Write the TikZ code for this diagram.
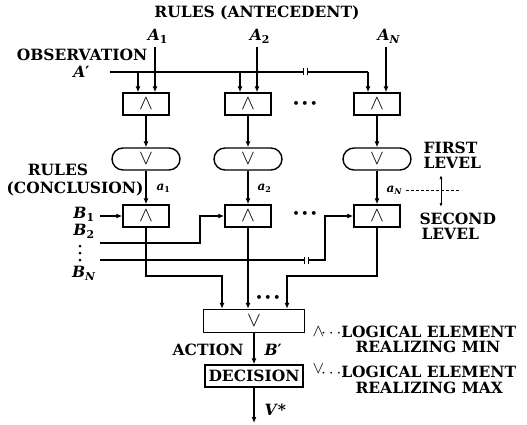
\documentclass[tikz,border=0pt]{standalone}
\usepackage{fontspec}
\setmainfont{DejaVu Serif}
\usetikzlibrary{arrows.meta}

\tikzset{
  wire/.style={line width=1.8pt},
  arr/.style={wire, -{Latex[length=6pt,width=5pt]}},
  andbox/.style={draw, line width=1.4pt, minimum width=46pt, minimum height=22pt, inner sep=0pt},
  orbox/.style={andbox, rounded corners=11pt, minimum width=68pt},
  small/.style={font=\fontsize{12}{13}\selectfont\bfseries},
}
\newcommand{\gateand}{{\fontsize{20}{20}\selectfont$\wedge$}}
\newcommand{\gateor}{{\fontsize{20}{20}\selectfont$\vee$}}
\newcommand{\vname}[2]{\textit{#1}\textsubscript{#2}}
\newcommand{\dotsrow}{{\fontsize{11}{11}\selectfont\textbullet\,\textbullet\,\textbullet}}

\begin{document}
\begin{tikzpicture}[x=1pt,y=-1pt,font=\fontsize{15.5}{15}\selectfont\bfseries]
\useasboundingbox (0,0) rectangle (527,425);

\node (ante) at (257,13) {RULES (ANTECEDENT)};
\node (obs) at (82,55) {OBSERVATION};
\node[anchor=east] (aprime) at (93,72) {\textit{A}′};

% first level
\node[andbox] (and1) at (146,104) {\gateand};
\node[andbox] (and2) at (248,104) {\gateand};
\node[andbox] (and3) at (377,104) {\gateand};
\node (dots1) at (305,104) {\dotsrow};

\node[orbox] (or1) at (146,159) {\gateor};
\node[orbox] (or2) at (248,159) {\gateor};
\node[orbox] (or3) at (377,159) {\gateor};

% second level
\node[andbox] (sec1) at (146,216) {\gateand};
\node[andbox] (sec2) at (248,216) {\gateand};
\node[andbox] (sec3) at (377,216) {\gateand};
\node (dots2) at (305,214) {\dotsrow};

% antecedents
\coordinate (in1) at (155,47);
\coordinate (in2) at (257,47);
\coordinate (in3) at (386,47);
\node[anchor=south, xshift=3pt] (la1) at (in1) {\vname{A}{1}};
\node[anchor=south, xshift=3pt] (la2) at (in2) {\vname{A}{2}};
\node[anchor=south, xshift=3pt] (la3) at (in3) {\vname{A}{\textit{N}}};
\draw[arr] (in1) -- (in1 |- and1.north);
\draw[arr] (in2) -- (in2 |- and2.north);
\draw[arr] (in3) -- (in3 |- and3.north);

% observation bus
\coordinate (busL) at (110,72);
\coordinate (tap1) at (138,72);
\coordinate (tap2) at (240,72);
\coordinate (brk1) at (303,72);
\coordinate (brk2) at (307,72);
\coordinate (tap3) at (368,72);
\draw[wire] (busL) -- (brk1);
\draw[wire] (brk2) -- (tap3);
\draw[line width=1pt] ([yshift=-3.5pt]brk1) -- ([yshift=3.5pt]brk1);
\draw[line width=1pt] ([yshift=-3.5pt]brk2) -- ([yshift=3.5pt]brk2);
\draw[arr] (tap1) -- (tap1 |- and1.north);
\draw[arr] (tap2) -- (tap2 |- and2.north);
\draw[arr] (tap3) -- (tap3 |- and3.north);

\draw[arr] (and1) -- (or1);
\draw[arr] (and2) -- (or2);
\draw[arr] (and3) -- (or3);
\draw[arr] (or1) -- (sec1);
\draw[arr] (or2) -- (sec2);
\draw[arr] (or3) -- (sec3);

\node[small, anchor=west] (lca1) at (153,188) {\vname{a}{1}};
\node[small, anchor=west] (lca2) at (254,188) {\vname{a}{2}};
\node[small, anchor=west] (lca3) at (383,190) {\vname{a}{\textit{N}}};

% conclusions
\node (rulc) at (58,170) {RULES};
\node (conc) at (75,189) {(CONCLUSION)};
\node (lb1) at (84,214) {\vname{B}{1}};
\node (lb2) at (84,231) {\vname{B}{2}};
\node (lbn) at (84,273) {\vname{B}{\textit{N}}};
\fill (80,246) circle (1.5pt) (80,253) circle (1.5pt) (80,260) circle (1.5pt);

\coordinate (b1) at (100,216);
\coordinate (b2) at (100,243);
\coordinate (b2up) at (200,243);
\coordinate (bn) at (100,260);
\coordinate (brk3) at (304,260);
\coordinate (brk4) at (308,260);
\coordinate (bnup) at (325,260);
\draw[arr] (b1) -- (sec1);
\draw[arr] (b2) -- (b2up) |- (sec2);
\draw[wire] (bn) -- (brk3);
\draw[arr] (brk4) -- (bnup) |- (sec3);
\draw[line width=1pt] ([yshift=-3.5pt]brk3) -- ([yshift=3.5pt]brk3);
\draw[line width=1pt] ([yshift=-3.5pt]brk4) -- ([yshift=3.5pt]brk4);

% levels
\node[anchor=west, align=left] (first) at (420,155) {FIRST\\LEVEL};
\node[anchor=west, align=left] (second) at (416,226) {SECOND\\\hspace{2pt}LEVEL};
\coordinate (lvup) at (441,175);
\coordinate (lvdn) at (441,207);
\coordinate (dashend) at (460,190);
\draw[line width=0.8pt, {Latex[length=4pt,width=3pt]}-{Latex[length=4pt,width=3pt]}] (lvup) -- (lvdn);
\draw[line width=0.8pt, dash pattern=on 3pt off 2pt] (lca3.east) -- (dashend);

% action
\node[andbox, minimum width=101pt, minimum height=23pt] (orall) at (254,321) {\gateor};
\coordinate (mrgL) at (222,276);
\coordinate (mrgR) at (287,276);
\draw[arr] (sec1) |- (mrgL) -- (mrgL |- orall.north);
\draw[arr] (sec2.south) -- (sec2.south |- orall.north);
\draw[arr] (sec3) |- (mrgR) -- (mrgR |- orall.north);
\node (dots3) at (268,298) {\dotsrow};

\node[andbox, minimum width=98pt, minimum height=22pt] (dec) at (254,376) {DECISION};
\coordinate (vout) at (254,423);
\draw[arr] (orall) -- (dec);
\draw[arr] (dec) -- (vout);
\node[anchor=east] (act) at (247,350) {ACTION};
\node[anchor=west] (bprime) at (261,350) {\textit{B}′};
\node[anchor=west] (vstar) at (261,410) {\textit{V}*};

% legend
\node[anchor=west] (legmin) at (309,332) {{\normalfont\fontsize{17}{17}\selectfont\smash{\raisebox{1pt}{$\wedge$}}$\!\cdots$}LOGICAL ELEMENT};
\node[anchor=west] (legmin2) at (352,347) {REALIZING MIN};
\node[anchor=west] (legmax) at (309,372) {{\normalfont\fontsize{17}{17}\selectfont\smash{\raisebox{4pt}{$\vee$}}$\!\cdots$}LOGICAL ELEMENT};
\node[anchor=west] (legmax2) at (352,388) {REALIZING MAX};
\end{tikzpicture}
\end{document}
